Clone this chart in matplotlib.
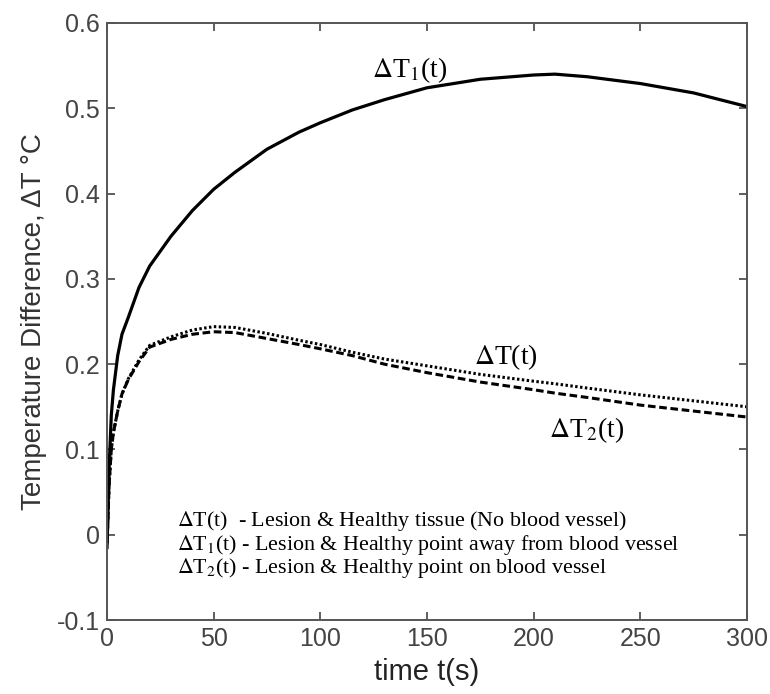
import numpy as np
import matplotlib
matplotlib.use("Agg")
import matplotlib.pyplot as plt

plt.rcParams['font.family'] = ['Liberation Sans', 'DejaVu Sans']
plt.rcParams['mathtext.fontset'] = 'stix'

# time axis (s)
t = [0, 1, 2, 3, 5, 7, 10, 15, 20, 30, 40, 50, 60, 75, 90, 100,
     115, 130, 150, 175, 200, 210, 225, 250, 275, 300]

# dT1 - lesion & healthy point away from blood vessel (solid)
dT1 = [-0.015, 0.08, 0.14, 0.17, 0.21, 0.235, 0.255, 0.29, 0.315, 0.35, 0.38,
       0.405, 0.425, 0.452, 0.472, 0.483, 0.498, 0.51, 0.524, 0.534, 0.539,
       0.540, 0.537, 0.529, 0.518, 0.502]

# dT - lesion & healthy tissue, no vessel (dotted)
dT = [-0.01, 0.06, 0.10, 0.12, 0.145, 0.165, 0.183, 0.205, 0.222, 0.232, 0.240,
      0.244, 0.243, 0.236, 0.228, 0.223, 0.214, 0.206, 0.198, 0.188, 0.180,
      0.177, 0.172, 0.164, 0.157, 0.150]

# dT2 - lesion & healthy point on blood vessel (dashed)
dT2 = [-0.01, 0.06, 0.10, 0.12, 0.145, 0.165, 0.182, 0.203, 0.220, 0.229, 0.235,
       0.238, 0.237, 0.230, 0.223, 0.218, 0.210, 0.200, 0.190, 0.179, 0.170,
       0.166, 0.161, 0.152, 0.145, 0.138]

legend_lines = [
    r'$\Delta$T(t)  - Lesion & Healthy tissue (No blood vessel)',
    r'$\Delta$T$_1$(t) - Lesion & Healthy point away from blood vessel',
    r'$\Delta$T$_2$(t) - Lesion & Healthy point on blood vessel',
]

fig = plt.figure(figsize=(7.7, 6.94), dpi=100)
ax = fig.add_axes([0.139, 0.1066, 0.831, 0.8603])

ax.plot(t, dT1, color='black', lw=2.3, ls='-')
ax.plot(t, dT, color='black', lw=2.2, ls=(0, (0.8, 0.8)))
ax.plot(t, dT2, color='black', lw=2.2, ls=(0, (2.5, 1.2)))

ax.set_xlim(0, 300)
ax.set_ylim(-0.1, 0.6)
ax.set_xticks([0, 50, 100, 150, 200, 250, 300])
ax.set_yticks([-0.1, 0, 0.1, 0.2, 0.3, 0.4, 0.5, 0.6])
ax.set_yticklabels(['-0.1', '0', '0.1', '0.2', '0.3', '0.4', '0.5', '0.6'])

grey = '#444444'
ax.tick_params(direction='in', length=6, width=1.2, colors=grey,
               labelsize=18, top=True, right=True, pad=5)
for s in ax.spines.values():
    s.set_color('#555555')
    s.set_linewidth(1.4)

ax.set_xlabel('time t(s)', fontsize=21, color='#222222', labelpad=5)
ax.set_ylabel('Temperature Difference, ΔT °C', fontsize=20, color='#333333', labelpad=7)

serif = ['Liberation Serif', 'DejaVu Serif']
ax.text(142, 0.545, r'$\Delta$T$_1$(t)', fontsize=20, family=serif, ha='center', va='center')
ax.text(187, 0.208, r'$\Delta$T(t)', fontsize=20, family=serif, ha='center', va='center')
ax.text(225, 0.123, r'$\Delta$T$_2$(t)', fontsize=20, family=serif, ha='center', va='center')

for i, line in enumerate(legend_lines):
    ax.text(33, 0.016 - i * 0.0275, line, fontsize=15.8, family=serif,
            ha='left', va='center')

fig.savefig('out.png', dpi=100)
